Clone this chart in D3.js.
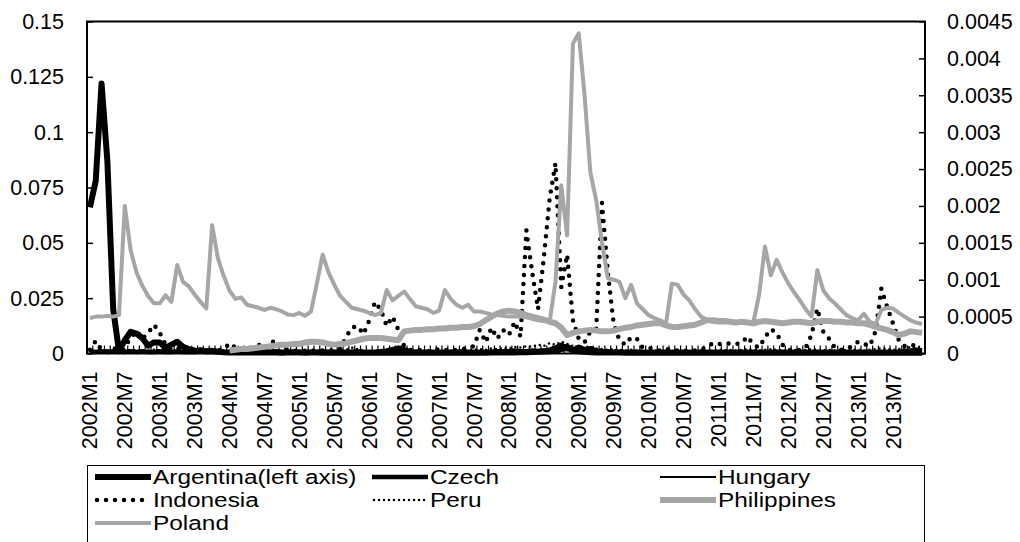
<!DOCTYPE html>
<html>
<head>
<meta charset="utf-8">
<script src="https://cdn.jsdelivr.net/npm/d3@7"></script>
<style>
	body { margin: 0; background: #fff; }
	svg { display: block; }
</style>
</head>
<body>
<svg id="chart" width="1020" height="542"></svg>
<script>
const years = [2002, 2003, 2004, 2005, 2006, 2007, 2008, 2009, 2010, 2011, 2012, 2013];
const months = [1, 2, 3, 4, 5, 6, 7, 8, 9, 10, 11, 12];
const categories = years.flatMap(y => months.map(m => y + "M" + m));
const tickLabels = categories.filter(c => c.endsWith("M1") || c.endsWith("M7"));
const leftTicks = [0, 0.025, 0.05, 0.075, 0.1, 0.125, 0.15];
const rightTicks = [0, 0.0005, 0.001, 0.0015, 0.002, 0.0025, 0.003, 0.0035, 0.004, 0.0045];

// left axis
const argentina = [
	0.066, 0.078, 0.122, 0.087, 0.02, 0.001, 0.006, 0.0098, 0.009, 0.007, 0.0035, 0.005,
	0.005, 0.0025, 0.004, 0.0053, 0.003, 0.002, 0.001, 0.0015, 0.001, 0.0012, 0.0008, 0.0006,
	0.0005, 0.0005, 0.0004, 0.0005, 0.0004, 0.0004, 0.0005, 0.0004, 0.0004, 0.0003, 0.0004, 0.0004,
	0.0004, 0.0003, 0.0004, 0.0004, 0.0003, 0.0003, 0.0004, 0.0003, 0.0003, 0.0004, 0.0003, 0.0003,
	0.0003, 0.0003, 0.0004, 0.0003, 0.0003, 0.0003, 0.0003, 0.0003, 0.0004, 0.0003, 0.0003, 0.0003,
	0.0003, 0.0003, 0.0003, 0.0004, 0.0003, 0.0003, 0.0003, 0.0003, 0.0003, 0.0004, 0.0004, 0.0005,
	0.0005, 0.0005, 0.0006, 0.0006, 0.0007, 0.0008, 0.0009, 0.001, 0.0012, 0.002, 0.003, 0.0015,
	0.001, 0.0008, 0.0006, 0.0005, 0.0005, 0.0004, 0.0004, 0.0004, 0.0003, 0.0003, 0.0003, 0.0003,
	0.0003, 0.0003, 0.0003, 0.0003, 0.0003, 0.0003, 0.0003, 0.0003, 0.0003, 0.0003, 0.0003, 0.0003,
	0.0003, 0.0003, 0.0003, 0.0003, 0.0003, 0.0003, 0.0003, 0.0003, 0.0003, 0.0003, 0.0003, 0.0003,
	0.0003, 0.0003, 0.0003, 0.0003, 0.0003, 0.0003, 0.0003, 0.0003, 0.0003, 0.0003, 0.0003, 0.0003,
	0.0003, 0.0003, 0.0003, 0.0003, 0.0003, 0.0003, 0.0003, 0.0003, 0.0003, 0.0003, 0.0003, 0.0003
];
// right axis
const czech = [
	0.00003, 0.00002, 0.00003, 0.00002, 0.00003, 0.00003, 0.00002, 0.00003, 0.00002, 0.00003, 0.00002, 0.00002,
	0.00003, 0.00002, 0.00002, 0.00003, 0.00002, 0.00002, 0.00002, 0.00003, 0.00002, 0.00002, 0.00002, 0.00002,
	0.00002, 0.00002, 0.00003, 0.00002, 0.00002, 0.00002, 0.00002, 0.00002, 0.00003, 0.00002, 0.00002, 0.00002,
	0.00002, 0.00002, 0.00002, 0.00002, 0.00003, 0.00002, 0.00002, 0.00002, 0.00002, 0.00002, 0.00003, 0.00002,
	0.00002, 0.00002, 0.00003, 0.00004, 0.00006, 0.00008, 0.00006, 0.00003, 0.00002, 0.00002, 0.00002, 0.00002,
	0.00002, 0.00002, 0.00002, 0.00002, 0.00003, 0.00002, 0.00002, 0.00002, 0.00002, 0.00002, 0.00003, 0.00003,
	0.00003, 0.00004, 0.00003, 0.00003, 0.00004, 0.00003, 0.00004, 0.00005, 0.00008, 0.00012, 0.00008, 0.00005,
	0.00009, 0.00006, 0.00007, 0.00004, 0.00003, 0.00003, 0.00002, 0.00002, 0.00002, 0.00002, 0.00002, 0.00002,
	0.00002, 0.00002, 0.00002, 0.00002, 0.00002, 0.00002, 0.00002, 0.00002, 0.00002, 0.00002, 0.00002, 0.00002,
	0.00002, 0.00002, 0.00002, 0.00002, 0.00002, 0.00002, 0.00002, 0.00002, 0.00002, 0.00002, 0.00002, 0.00002,
	0.00002, 0.00002, 0.00002, 0.00002, 0.00002, 0.00002, 0.00002, 0.00002, 0.00002, 0.00002, 0.00002, 0.00002,
	0.00002, 0.00002, 0.00002, 0.00002, 0.00002, 0.00002, 0.00002, 0.00002, 0.00003, 0.00004, 0.00005, 0.00004
];
const hungary = [
	0.00001, 0.00001, 0.00002, 0.00001, 0.00001, 0.00002, 0.00001, 0.00001, 0.00001, 0.00002, 0.00001, 0.00001,
	0.00001, 0.00001, 0.00001, 0.00001, 0.00001, 0.00001, 0.00001, 0.00001, 0.00001, 0.00001, 0.00001, 0.00001,
	0.00001, 0.00001, 0.00001, 0.00001, 0.00001, 0.00001, 0.00001, 0.00001, 0.00001, 0.00001, 0.00001, 0.00001,
	0.00001, 0.00001, 0.00001, 0.00001, 0.00001, 0.00001, 0.00001, 0.00001, 0.00001, 0.00001, 0.00001, 0.00001,
	0.00001, 0.00001, 0.00001, 0.00001, 0.00001, 0.00001, 0.00001, 0.00001, 0.00001, 0.00001, 0.00001, 0.00001,
	0.00001, 0.00001, 0.00001, 0.00001, 0.00001, 0.00001, 0.00001, 0.00001, 0.00001, 0.00001, 0.00001, 0.00001,
	0.00001, 0.00001, 0.00002, 0.00002, 0.00002, 0.00002, 0.00003, 0.00003, 0.00004, 0.00005, 0.00004, 0.00003,
	0.00003, 0.00002, 0.00002, 0.00002, 0.00001, 0.00001, 0.00001, 0.00001, 0.00001, 0.00001, 0.00001, 0.00001,
	0.00001, 0.00001, 0.00001, 0.00001, 0.00001, 0.00001, 0.00001, 0.00001, 0.00001, 0.00001, 0.00001, 0.00001,
	0.00001, 0.00001, 0.00001, 0.00001, 0.00001, 0.00001, 0.00001, 0.00001, 0.00001, 0.00001, 0.00001, 0.00001,
	0.00001, 0.00001, 0.00001, 0.00001, 0.00001, 0.00001, 0.00001, 0.00001, 0.00001, 0.00001, 0.00001, 0.00001,
	0.00001, 0.00001, 0.00001, 0.00001, 0.00001, 0.00001, 0.00001, 0.00001, 0.00001, 0.00001, 0.00001, 0.00001
];
const indonesia = [
	0.00005, 0.00017, 0.00005, 0.00003, 0.00008, 0.00003, 0.0001, 0.0002, 0.00031, 0.0002, 0.00028, 0.00039,
	0.00028, 0.00012, 0.00005, 0.00008, 0.00004, 0.0001, 0.00005, 0.00003, 0.00005, 0.00003, 0.00004, 0.00006,
	0.00014, 0.00008, 0.00005, 0.00006, 0.00008, 0.00012, 0.00006, 0.00014, 0.00018, 0.00008, 0.00005, 0.00004,
	0.00003, 0.00004, 0.00005, 0.00003, 0.00004, 0.00005, 0.00004, 0.00006, 0.00022, 0.00035, 0.00037, 0.00026,
	0.00045, 0.0007, 0.00059, 0.00037, 0.0005, 0.00032, 0.0001, 0.00005, 0.00004, 0.00005, 0.00003, 0.00004,
	0.00006, 0.00005, 0.00004, 0.00005, 0.00006, 0.00008, 0.0001, 0.00032, 0.00015, 0.00035, 0.0002, 0.00032,
	0.00025, 0.00043, 0.00023, 0.00167, 0.0011, 0.0006, 0.0013, 0.0021, 0.00258, 0.0009, 0.00134, 0.00045,
	0.0002, 0.00015, 0.0003, 0.00033, 0.00204, 0.0011, 0.00041, 0.00018, 0.00012, 0.00022, 0.0002, 0.00008,
	0.00008, 0.00005, 0.00004, 0.00006, 0.00005, 0.00004, 0.00003, 0.00005, 0.00004, 0.00006, 0.00008, 0.00014,
	0.00013, 0.00012, 0.00014, 0.00013, 0.00014, 0.00023, 0.00012, 0.00008, 0.00022, 0.00033, 0.00028, 0.00012,
	0.00005, 0.00004, 0.00005, 0.00008, 0.00025, 0.00061, 0.0003, 0.0002, 0.00008, 0.00005, 0.00006, 0.0001,
	0.00016, 0.00013, 0.0001, 0.0003, 0.00088, 0.00063, 0.00041, 0.00018, 0.0001, 0.00012, 0.0001, 0.00011
];
const peru = [
	0.00004, 0.00003, 0.00005, 0.00004, 0.00003, 0.00005, 0.00006, 0.00004, 0.00005, 0.00003, 0.00004, 0.00005,
	0.00004, 0.00003, 0.00004, 0.00003, 0.00004, 0.00003, 0.00004, 0.00003, 0.00003, 0.00004, 0.00003, 0.00003,
	0.00003, 0.00004, 0.00003, 0.00003, 0.00004, 0.00003, 0.00003, 0.00004, 0.00003, 0.00003, 0.00003, 0.00004,
	0.00003, 0.00003, 0.00004, 0.00003, 0.00003, 0.00003, 0.00004, 0.00003, 0.00005, 0.00008, 0.00006, 0.00004,
	0.00003, 0.00004, 0.00003, 0.00004, 0.00005, 0.00004, 0.00003, 0.00003, 0.00004, 0.00003, 0.00003, 0.00004,
	0.00003, 0.00003, 0.00004, 0.00003, 0.00003, 0.00004, 0.00005, 0.00006, 0.00005, 0.00007, 0.00006, 0.00008,
	0.00007, 0.00009, 0.00008, 0.0001, 0.00009, 0.00012, 0.0001, 0.00014, 0.00012, 0.00016, 0.00013, 0.0001,
	0.00008, 0.00007, 0.00009, 0.00007, 0.00006, 0.00005, 0.00006, 0.00005, 0.00004, 0.00005, 0.00004, 0.00004,
	0.00003, 0.00004, 0.00003, 0.00004, 0.00003, 0.00003, 0.00004, 0.00003, 0.00003, 0.00004, 0.00003, 0.00004,
	0.00005, 0.00004, 0.00005, 0.00004, 0.00005, 0.00006, 0.00005, 0.00004, 0.00005, 0.00006, 0.00005, 0.00004,
	0.00004, 0.00005, 0.00004, 0.00005, 0.00006, 0.00005, 0.00004, 0.00005, 0.00004, 0.00005, 0.00004, 0.00005,
	0.00005, 0.00004, 0.00005, 0.00006, 0.00007, 0.00006, 0.00005, 0.00006, 0.00007, 0.00009, 0.00008, 0.00009
];
const philippines = [
	null, null, null, null, null, null, null, null, null, null, null, null,
	null, null, null, null, null, null, null, null, null, null, null, null,
	0.00004, 0.00005, 0.00006, 0.00006, 0.00007, 0.00008, 0.00009, 0.0001, 0.00011, 0.00012, 0.00012, 0.00013,
	0.00013, 0.00015, 0.00016, 0.00016, 0.00015, 0.00013, 0.00012, 0.00013, 0.00014, 0.00016, 0.00018, 0.0002,
	0.00021, 0.00021, 0.00021, 0.0002, 0.00019, 0.00018, 0.0003, 0.00031, 0.00032, 0.00032, 0.00033, 0.00033,
	0.00034, 0.00034, 0.00035, 0.00035, 0.00036, 0.00036, 0.00037, 0.0004, 0.00045, 0.0005, 0.00054, 0.00057,
	0.00058, 0.00057, 0.00055, 0.00052, 0.0005, 0.00048, 0.00046, 0.00043, 0.00041, 0.00035, 0.00025, 0.00028,
	0.0003, 0.00031, 0.00032, 0.00031, 0.0003, 0.0003, 0.00031, 0.00033, 0.00035, 0.00036, 0.00038, 0.00039,
	0.0004, 0.00041, 0.00041, 0.00038, 0.00036, 0.00036, 0.00037, 0.00038, 0.00039, 0.00042, 0.00045, 0.00045,
	0.00044, 0.00044, 0.00043, 0.00042, 0.00043, 0.00042, 0.00041, 0.00043, 0.00044, 0.00043, 0.00042, 0.00041,
	0.00042, 0.00043, 0.00043, 0.00042, 0.00041, 0.00043, 0.00044, 0.00044, 0.00043, 0.00043, 0.00042, 0.00042,
	0.00041, 0.00041, 0.00039, 0.00036, 0.00034, 0.00032, 0.00029, 0.00025, 0.00027, 0.0003, 0.00029, 0.00028
];
const poland = [
	0.00048, 0.0005, 0.0005, 0.00051, 0.0005, 0.00052, 0.002, 0.0014, 0.0011, 0.00092, 0.00078, 0.00068,
	0.00068, 0.00079, 0.0007, 0.0012, 0.00097, 0.00091, 0.0008, 0.0007, 0.00061, 0.00174, 0.00129, 0.00105,
	0.00085, 0.00074, 0.00076, 0.00066, 0.00064, 0.00062, 0.00059, 0.00062, 0.0006, 0.00057, 0.00053, 0.00052,
	0.00055, 0.00051, 0.00057, 0.00095, 0.00134, 0.0011, 0.00093, 0.00078, 0.0007, 0.00062, 0.0006, 0.00058,
	0.00055, 0.00052, 0.00055, 0.00086, 0.00072, 0.00078, 0.00084, 0.00074, 0.00064, 0.00062, 0.0006, 0.00055,
	0.00058, 0.00086, 0.00074, 0.00066, 0.00062, 0.00066, 0.00057, 0.00057, 0.00055, 0.00053, 0.00052, 0.00051,
	0.0005, 0.0005, 0.0005, 0.00049, 0.00047, 0.00045, 0.00044, 0.00043, 0.00097, 0.00228, 0.0016, 0.0042,
	0.00434, 0.0035, 0.00245, 0.00208, 0.0015, 0.00102, 0.001, 0.00097, 0.00075, 0.00093, 0.00068, 0.0006,
	0.00052, 0.00048, 0.00045, 0.00041, 0.00095, 0.00093, 0.0008, 0.00072, 0.0006, 0.0005, 0.00046, 0.00043,
	0.00042, 0.00042, 0.00043, 0.00041, 0.00042, 0.00041, 0.00042, 0.0008, 0.00145, 0.00106, 0.00127, 0.0011,
	0.00095, 0.00083, 0.00072, 0.0006, 0.0005, 0.00113, 0.00086, 0.00075, 0.00068, 0.0006, 0.00052, 0.00048,
	0.00045, 0.00054, 0.00043, 0.0004, 0.00059, 0.00062, 0.00061, 0.00055, 0.0005, 0.00045, 0.00042, 0.0004
];

const series = [
	{ name: "Argentina(left axis)", values: argentina, axis: "left", color: "#000", width: 6, dash: null },
	{ name: "Czech", values: czech, axis: "right", color: "#000", width: 4.5, dash: null },
	{ name: "Hungary", values: hungary, axis: "right", color: "#000", width: 2, dash: null },
	{ name: "Indonesia", values: indonesia, axis: "right", color: "#000", width: 4.5, dash: "0 9" },
	{ name: "Peru", values: peru, axis: "right", color: "#000", width: 2.5, dash: "0 5" },
	{ name: "Philippines", values: philippines, axis: "right", color: "#a6a6a6", width: 6, dash: null },
	{ name: "Poland", values: poland, axis: "right", color: "#a6a6a6", width: 4, dash: null }
];

const svg = d3.select("#chart");
const plot = { left: 87, right: 925, top: 21.5, bottom: 353.5 };
const fontFamily = "'Liberation Sans', Arial, sans-serif";
const fontSize = 21.5;

const x = d3.scaleBand().domain(categories).range([plot.left, plot.right]);
const yLeft = d3.scaleLinear().domain([0, 0.15]).range([plot.bottom, plot.top]);
const yRight = d3.scaleLinear().domain([0, 0.0045]).range([plot.bottom, plot.top]);
const cx = c => x(c) + x.bandwidth() / 2;

// y axes, ticks point inward
const leftAxis = svg.append("g")
	.attr("transform", "translate(" + plot.left + ",0)")
	.call(d3.axisLeft(yLeft).tickValues(leftTicks).tickSize(-6).tickPadding(23).tickFormat(d => String(d)));
const rightAxis = svg.append("g")
	.attr("transform", "translate(" + plot.right + ",0)")
	.call(d3.axisRight(yRight).tickValues(rightTicks).tickSize(-6).tickPadding(22).tickFormat(d => String(d)));
[leftAxis, rightAxis].forEach(function(g) {
	g.attr("font-family", fontFamily).attr("font-size", fontSize);
	g.select(".domain").remove();
	g.selectAll(".tick line").attr("stroke", "#000").attr("stroke-width", 1.5);
	g.selectAll(".tick text").attr("fill", "#000");
});

// category ticks along the bottom
svg.append("g")
	.selectAll("line")
	.data(categories.concat([null]))
	.enter()
	.append("line")
	.attr("x1", d => d === null ? plot.right : x(d))
	.attr("x2", d => d === null ? plot.right : x(d))
	.attr("y1", plot.bottom)
	.attr("y2", plot.bottom - 8)
	.attr("stroke", "#000")
	.attr("stroke-width", 1.2);

svg.append("g")
	.attr("font-family", fontFamily)
	.attr("font-size", fontSize)
	.selectAll("text")
	.data(tickLabels)
	.enter()
	.append("text")
	.attr("transform", d => "translate(" + cx(d) + "," + (plot.bottom + 18) + ") rotate(-90)")
	.attr("text-anchor", "end")
	.attr("dy", "0.35em")
	.text(d => d);

// frame
svg.append("rect")
	.attr("x", plot.left)
	.attr("y", plot.top)
	.attr("width", plot.right - plot.left)
	.attr("height", plot.bottom - plot.top)
	.attr("fill", "none")
	.attr("stroke", "#000")
	.attr("stroke-width", 2);

// series
series.forEach(function(s) {
	let yScale = s.axis === "left" ? yLeft : yRight;
	let line = d3.line()
		.defined(d => d.v !== null)
		.x(d => cx(d.c))
		.y(d => yScale(d.v));
	let pts = categories.map((c, i) => ({ c: c, v: s.values[i] }));
	svg.append("path")
		.datum(pts)
		.attr("d", line)
		.attr("fill", "none")
		.attr("stroke", s.color)
		.attr("stroke-width", s.width)
		.attr("stroke-linejoin", "round")
		.attr("stroke-linecap", s.dash ? "round" : "butt")
		.attr("stroke-dasharray", s.dash);
});

// legend
const legend = svg.append("g")
	.attr("font-family", fontFamily)
	.attr("font-size", 20);
legend.append("rect")
	.attr("x", 87.5)
	.attr("y", 465.5)
	.attr("width", 837)
	.attr("height", 90)
	.attr("fill", "#fff")
	.attr("stroke", "#000")
	.attr("stroke-width", 1);

const colX = [95, 372, 660];
const rowY = [477, 500, 523];
const item = legend.selectAll(".item")
	.data(series)
	.enter()
	.append("g")
	.attr("class", "item")
	.attr("transform", (d, i) => "translate(" + colX[i % 3] + "," + rowY[Math.floor(i / 3)] + ")");
item.append("line")
	.attr("x1", d => d.dash ? 2 : 0)
	.attr("x2", 56)
	.attr("y1", 0)
	.attr("y2", 0)
	.attr("stroke", d => d.color)
	.attr("stroke-width", d => d.width)
	.attr("stroke-linecap", d => d.dash ? "round" : "butt")
	.attr("stroke-dasharray", d => d.dash);
item.append("text")
	.attr("x", 58)
	.attr("dy", "0.35em")
	.text(d => d.name)
	.each(function() {
		// the legend font in the source is set wide, so stretch to that width
		let w = this.getComputedTextLength();
		d3.select(this).attr("textLength", w * 1.22).attr("lengthAdjust", "spacingAndGlyphs");
	});
</script>
</body>
</html>
